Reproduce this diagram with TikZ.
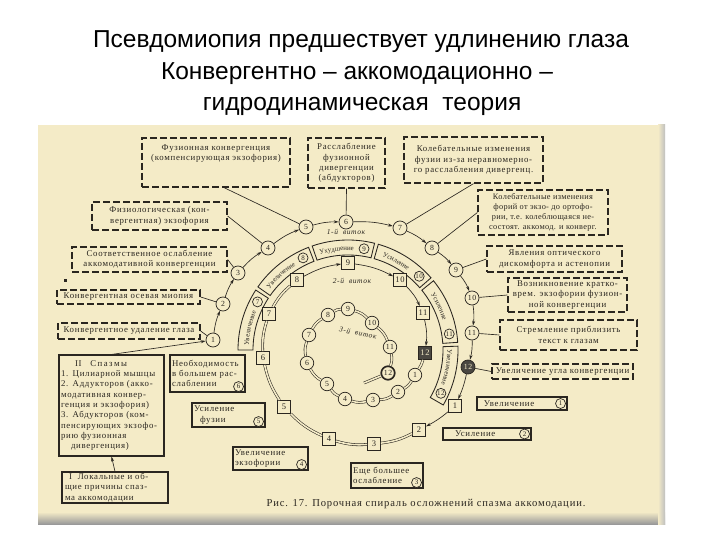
\documentclass[tikz,border=0pt]{standalone}
\usepackage{fontspec}
\newfontfamily\titlefont{Liberation Sans}
\newfontfamily\bookfont[LetterSpace=8]{Liberation Serif}
\newfontfamily\plainserif{Liberation Serif}
\usetikzlibrary{arrows.meta,calc,decorations.text}
\definecolor{paper}{RGB}{244,235,199}
\definecolor{ink}{RGB}{42,38,32}
\newcommand\bandfont{\plainserif\fontsize{6.9}{7}\selectfont}
\begin{document}
\begin{tikzpicture}[x=1pt,y=1pt,
  every node/.style={text=ink},
  bk/.style={font=\bookfont\fontsize{8.8}{10.3}\selectfont},
  dbox/.style={bk, draw=ink, line width=1.25pt, dash pattern=on 7pt off 3pt, align=center, inner sep=1pt},
  sbox/.style={bk, draw=ink, line width=1.1pt, align=center, inner sep=1pt},
  num/.style={circle, draw=ink, line width=0.7pt, minimum size=14pt, inner sep=0pt, fill=paper, font=\bookfont\fontsize{7.8}{8}\selectfont},
  inum/.style={num, minimum size=13.5pt},
  sq/.style={rectangle, draw=ink, line width=0.8pt, minimum size=13pt, inner sep=0pt, fill=paper, font=\bookfont\fontsize{8.5}{8}\selectfont},
  cn/.style={circle, draw=ink, line width=0.7pt, minimum size=10pt, inner sep=0pt, fill=paper, font=\bookfont\fontsize{7}{7}\selectfont},
  link/.style={draw=ink, line width=0.65pt},
  arr/.style={link, -{Stealth[length=5pt,width=3pt]}},
  dbl/.style={draw=ink, line width=0.55pt, double=paper, double distance=1.6pt},
  ttl/.style={text=black, font=\titlefont\fontsize{24.5}{25}\selectfont, anchor=base},
  lbl/.style={font=\bookfont\itshape\fontsize{7.5}{8}\selectfont},
  bandtext/.style={decorate, decoration={text along path, text={|\bandfont|#1}, text align=center, text color=ink}}
]
\useasboundingbox (0,0) rectangle (720,-540);
\fill[white] (0,0) rectangle (720,-540);
\fill[paper] (38,-125) rectangle (665,-524);
\shade[top color=paper, bottom color=black!40] (38,-512) rectangle (665,-524);
\shade[left color=paper, right color=black!25] (658,-125) rectangle (665,-524);

% title
\node[ttl] (t1) at (361,-48) {Псевдомиопия предшествует удлинению глаза};
\node[ttl] (t2) at (357,-80) {Конвергентно – аккомодационно –};
\node[ttl] (t3) at (362,-111) {гидродинамическая\ \ теория};

% band of the first turn
\begin{scope}[shift={(348,-350)}]
\foreach \a/\b/\n in {180/147/7, 145/111/8, 109/76/9, 74/41/10, 39/4/11, 2/-30/12}{
  \draw[ink, line width=0.85pt, fill=paper] (\a:95) arc[start angle=\a, end angle=\b, radius=95] -- (\b:110) arc[start angle=\b, end angle=\a, radius=110] -- cycle;
  \node[cn] (bn\n) at ({\b+5}:102.5) {\n};
}
\path[bandtext={Увеличение}] (179:99.3) arc[start angle=179, end angle=156, radius=99.3];
\path[bandtext={Увеличение}] (144:99.3) arc[start angle=144, end angle=120, radius=99.3];
\path[bandtext={Ухудшение}] (108:99.3) arc[start angle=108, end angle=85, radius=99.3];
\path[bandtext={Усиление}] (73:99.3) arc[start angle=73, end angle=50, radius=99.3];
\path[bandtext={Усиление}] (38:99.3) arc[start angle=38, end angle=13, radius=99.3];
\path[bandtext={Увеличение}] (1:99.3) arc[start angle=1, end angle=-21, radius=99.3];
\end{scope}

% outer turn circles
\node[num] (o1) at (213,-340) {1};
\node[num] (o2) at (223,-304) {2};
\node[num] (o3) at (238,-273) {3};
\node[num] (o4) at (268,-248) {4};
\node[num] (o5) at (306,-227) {5};
\node[num] (o6) at (346,-222) {6};
\node[num] (o7) at (400,-228) {7};
\node[num] (o8) at (432,-248) {8};
\node[num] (o9) at (456,-270) {9};
\node[num] (o10) at (472,-298) {10};
\node[num] (o11) at (472,-333) {11};
\node[num, fill=ink!85, text=paper] (o12) at (468,-367) {12};
\foreach \i/\j in {1/2,2/3,3/4,4/5,5/6,6/7,7/8,8/9,9/10,10/11,11/12}
  \draw[arr] (o\i) to[bend left=8] (o\j);

% second turn squares
\node[sq] (s1) at (455,-406) {1};
\node[sq] (s2) at (419,-430) {2};
\node[sq] (s3) at (374,-444) {3};
\node[sq] (s4) at (329,-439) {4};
\node[sq] (s5) at (284,-407) {5};
\node[sq] (s6) at (263,-358) {6};
\node[sq] (s7) at (269,-314) {7};
\node[sq] (s8) at (297,-280) {8};
\node[sq] (s9) at (348,-263) {9};
\node[sq] (s10) at (400,-280) {10};
\node[sq] (s11) at (423,-313) {11};
\node[sq, fill=ink!85, text=paper] (s12) at (425,-353) {12};
\draw[arr] (o12) to[bend left=6] (s1);
\draw[arr] (s1) to[bend left=6] (s2);
\foreach \i/\j in {2/3,3/4,4/5,5/6,6/7,7/8}
  \draw[dbl] (s\i) to[bend left=10] (s\j);
\foreach \i/\j in {8/9,9/10,10/11,11/12}
  \draw[arr] (s\i) to[bend left=10] (s\j);

% third turn circles
\node[inum] (i1) at (415,-375) {1};
\node[inum] (i2) at (398,-392) {2};
\node[inum] (i3) at (373,-400) {3};
\node[inum] (i4) at (345,-399) {4};
\node[inum] (i5) at (327,-384) {5};
\node[inum] (i6) at (307,-363) {6};
\node[inum] (i7) at (309,-335) {7};
\node[inum] (i8) at (328,-315) {8};
\node[inum] (i9) at (348,-309) {9};
\node[inum] (i10) at (372,-323) {10};
\node[inum] (i11) at (390,-347) {11};
\node[inum, line width=1.7pt] (i12) at (388,-373) {12};
\coordinate (iend) at (364,-383);
\draw[dbl] (s12) to[bend left=8] (i1);
\foreach \i/\j in {1/2,2/3,3/4,4/5,5/6,6/7,7/8,8/9,9/10,10/11,11/12}
  \draw[dbl] (i\i) to[bend left=15] (i\j);
\draw[dbl] (i12) -- (iend);

% turn labels
\node[lbl] (l1) at (346,-232) {1-й\ \ виток};
\node[lbl] (l2) at (352,-281) {2-й\ \ виток};
\node[lbl, rotate=-12] (l3) at (358,-333) {3-й\ \ виток};

% left dashed boxes
\node[dbox, minimum width=148, minimum height=49] (A) at (216,-162.5) {Фузионная конвергенция\\(компенсирующая экзофория)\\[9pt]};
\node[dbox, minimum width=77, minimum height=50] (B) at (346.5,-163) {Расслабление\\фузионной\\дивергенции\\(абдукторов)};
\node[dbox, minimum width=135, minimum height=28] (C) at (159.5,-216) {Физиологическая (кон-\\вергентная) экзофория};
\node[dbox, minimum width=155, minimum height=25] (D) at (149.5,-259.5) {Соответственное ослабление\\аккомодативной конвергенции};
\node[dbox, minimum width=143, minimum height=14] (E) at (128.5,-297) {Конвергентная осевая миопия};
\node[dbox, minimum width=142, minimum height=16] (F) at (129,-331) {Конвергентное удаление глаза};
\fill[ink] (64,-279) rectangle (67,-282);

% solid boxes left
\node[sbox, minimum width=105, minimum height=101, text width=101, align=left] (G) at (111.5,-405.5) {\hspace*{14pt}II\quad С\,п\,а\,з\,м\,ы\\1. Цилиарной мышцы\\2. Аддукторов (акко-\\модативная конвер-\\генция и экзофория)\\3. Абдукторов (ком-\\пенсирующих экзофо-\\рию фузионная\\\hspace*{10pt}дивергенция)};
\node[sbox, minimum width=106, minimum height=31, text width=100, align=left] (H) at (115,-487.5) {\hspace*{4pt}I\ \ Локальные и об-\\щие причины спаз-\\ма аккомодации};
\draw[arr] (G.north) -- (o1);
\draw[arr] (H.north) -- (G.south);

% right dashed boxes
\node[dbox, minimum width=139, minimum height=46] (I) at (473.5,-160) {Колебательные изменения\\фузии из-за неравномерно-\\го расслабления дивергенц.};
\node[dbox, minimum width=130, minimum height=45, font=\bookfont\fontsize{8.3}{10.2}\selectfont\addfontfeature{LetterSpace=4}] (J) at (543,-212.5) {Колебательные изменения\\форий от экзо- до ортофо-\\рии, т.е. колеблющаяся не-\\состоят. аккомод. и конверг.};
\node[dbox, minimum width=135, minimum height=26] (K) at (554.5,-259) {Явления оптического\\дискомфорта и астенопии};
\node[dbox, minimum width=119, minimum height=34] (L) at (567.5,-295) {Возникновение кратко-\\врем. экзофории фузион-\\ной конвергенции};
\node[dbox, minimum width=137, minimum height=30] (M) at (568.5,-335) {Стремление приблизить\\текст к глазам};
\node[dbox, minimum width=141, minimum height=15] (N) at (562.5,-371.5) {Увеличение угла конвергенции};

% links boxes - outer circles
\draw[link] ([xshift=8]A.south) -- (o5);
\draw[link] (B.south) -- (o6);
\draw[link] (C.east) -- (o4);
\draw[link] (D.east) -- (o3);
\draw[link] (E.east) -- (o2);
\draw[link] (F.east) -- (o1);
\draw[link] (I.south) -- (o7);
\draw[link] (J.west) -- (o8);
\draw[link] (K.west) -- (o9);
\draw[link] (L.west) -- (o10);
\draw[link] (M.west) -- (o11);
\draw[link] (N.west) -- (o12);

% solid boxes with circled numbers
\node[sbox, minimum width=90, minimum height=13, text width=82, align=left] (O) at (522,-403.5) {\ Увеличение};
\node[cn] (On) at ([xshift=-7]O.east) {1};
\node[sbox, minimum width=88, minimum height=12, text width=80, align=left] (P) at (487,-434) {\hspace*{8pt}Усиление};
\node[cn] (Pn) at ([xshift=-7]P.east) {2};
\node[sbox, minimum width=72, minimum height=25, text width=68, align=left] (Q) at (387,-475.5) {Еще большее\\ослабление};
\node[cn] (Qn) at ([shift={(-7,6)}]Q.south east) {3};
\node[sbox, minimum width=75, minimum height=23, text width=71, align=left] (R) at (270.5,-458.5) {Увеличение\\экзофории};
\node[cn] (Rn) at ([shift={(-7,6)}]R.south east) {4};
\node[sbox, minimum width=73, minimum height=24, text width=69, align=left] (S) at (228.5,-415) {Усиление\\\hspace*{6pt}фузии};
\node[cn] (Sn) at ([shift={(-7,6)}]S.south east) {5};
\node[sbox, minimum width=75, minimum height=37, text width=71, align=left] (T) at (207.5,-373.5) {Необходимость\\в большем рас-\\слаблении};
\node[cn] (Tn) at ([shift={(-7,6)}]T.south east) {6};

% caption
\node[font=\bookfont\fontsize{10.6}{11}\selectfont, anchor=base] (cap) at (426,-506) {Рис. 17. Порочная спираль осложнений спазма аккомодации.};
\end{tikzpicture}
\end{document}
